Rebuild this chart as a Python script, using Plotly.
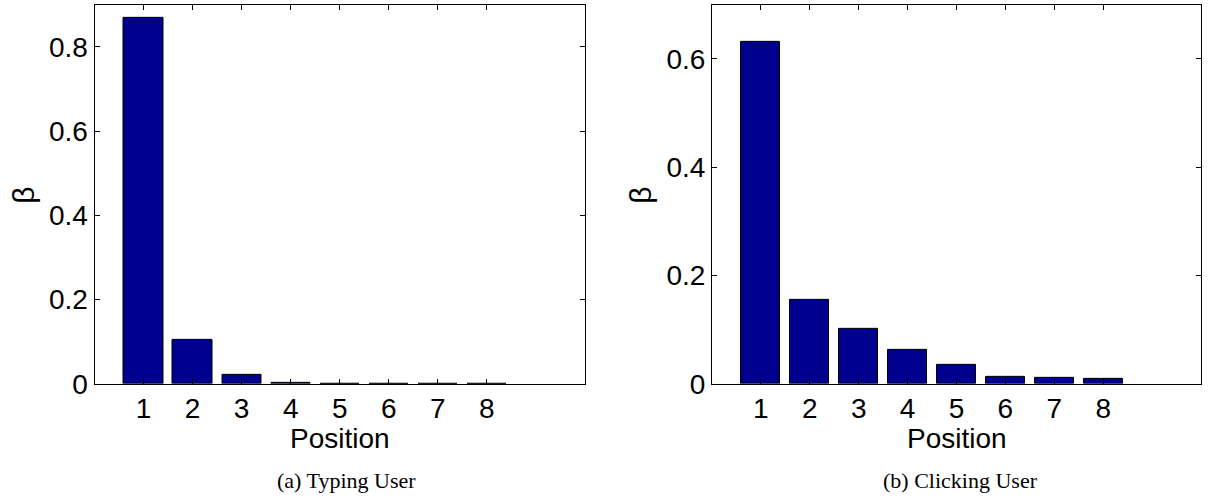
import plotly.graph_objects as go

# Position-bias weights per result position
positions = [1, 2, 3, 4, 5, 6, 7, 8]
typing_beta = [0.870, 0.105, 0.021, 0.003, 0.001, 0.0008, 0.0006, 0.0005]
clicking_beta = [0.632, 0.155, 0.102, 0.063, 0.0345, 0.0124, 0.011, 0.0088]
y_ticks_typing = [0, 0.2, 0.4, 0.6, 0.8]
y_ticks_clicking = [0, 0.2, 0.4, 0.6]
captions = ["(a) Typing User", "(b) Clicking User"]

W, H = 1209, 520
BAR_COLOR = "#00008f"
SANS = "Liberation Sans, Arial, Helvetica, sans-serif"
SERIF = "Liberation Serif, Times New Roman, serif"

# panel boxes in pixels: (left, right), shared top/bottom
left_box = (94.5, 585.0)
right_box = (712.0, 1201.0)
top_px, bottom_px = 5.0, 396.0


def px_x(v):
    return v / W


def px_y(v):
    return (H - v) / H


fig = go.Figure()

fig.add_trace(go.Bar(
    x=positions, y=typing_beta, width=0.8,
    marker=dict(color=BAR_COLOR, line=dict(color="black", width=1)),
    xaxis="x", yaxis="y", showlegend=False,
))
fig.add_trace(go.Bar(
    x=positions, y=clicking_beta, width=0.8,
    marker=dict(color=BAR_COLOR, line=dict(color="black", width=1)),
    xaxis="x2", yaxis="y2", showlegend=False,
))

axis_common = dict(
    showline=True, linecolor="black", linewidth=1, mirror="ticks",
    ticks="inside", ticklen=5, tickwidth=1, tickcolor="black",
    showgrid=False, zeroline=False,
    tickfont=dict(family=SANS, size=28, color="black"),
)

ydom = [px_y(bottom_px), px_y(top_px)]

fig.update_layout(
    width=W, height=H,
    margin=dict(l=0, r=0, t=0, b=0),
    paper_bgcolor="white", plot_bgcolor="white",
    bargap=0,
    xaxis=dict(domain=[px_x(left_box[0]), px_x(left_box[1])], range=[0, 10],
               tickvals=positions, anchor="y", **axis_common),
    yaxis=dict(domain=ydom, range=[0, 0.9], tickvals=y_ticks_typing,
               anchor="x", **axis_common),
    xaxis2=dict(domain=[px_x(right_box[0]), px_x(right_box[1])], range=[0, 10],
                tickvals=positions, anchor="y2", **axis_common),
    yaxis2=dict(domain=ydom, range=[0, 0.7], tickvals=y_ticks_clicking,
                anchor="x2", **axis_common),
)

annotations = []
for (lft, rgt), cap, cap_x, beta_x in [
    (left_box, captions[0], 346, 24),
    (right_box, captions[1], 961, 641),
]:
    mid = (lft + rgt) / 2
    annotations.append(dict(
        text="Position", x=px_x(mid), y=px_y(452), xref="paper", yref="paper",
        xanchor="center", yanchor="middle", showarrow=False,
        font=dict(family=SANS, size=28, color="black"),
    ))
    annotations.append(dict(
        text="β", x=px_x(beta_x), y=px_y(202), xref="paper", yref="paper",
        xanchor="center", yanchor="middle", showarrow=False, textangle=-90,
        font=dict(family=SANS, size=30, color="black"),
    ))
    annotations.append(dict(
        text=cap, x=px_x(cap_x), y=px_y(496), xref="paper", yref="paper",
        xanchor="center", yanchor="middle", showarrow=False,
        font=dict(family=SERIF, size=22, color="black"),
    ))
fig.update_layout(annotations=annotations)

fig.write_html("out.html")
